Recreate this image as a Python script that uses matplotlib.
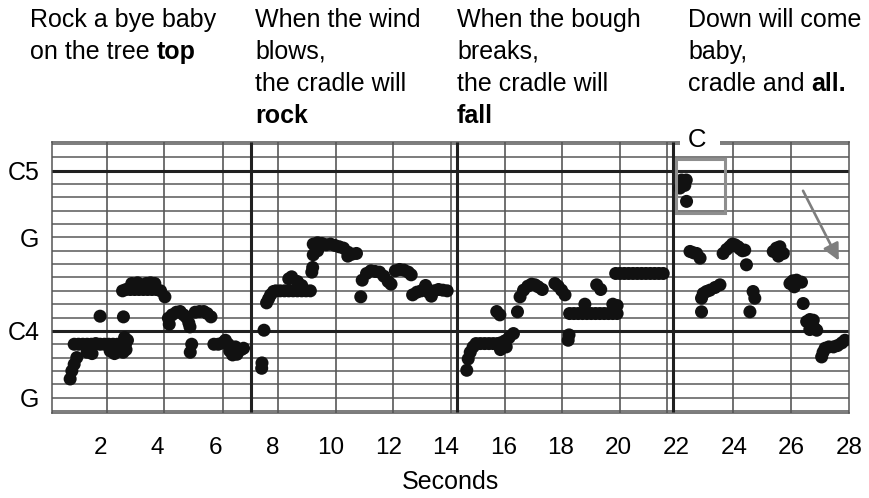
import matplotlib
matplotlib.use("Agg")
import matplotlib.pyplot as plt
from matplotlib.patches import Rectangle

plt.rcParams['font.family'] = ['Liberation Sans', 'DejaVu Sans']

# ---- pitch track (time in seconds, pitch in semitones relative to C4) ----
phrase1_t = [0.96, 1.02, 1.10, 1.19,
             1.10, 1.25, 1.40, 1.55, 1.70, 1.85, 2.00, 2.15, 2.30, 2.45, 2.60, 2.75, 2.88,
             1.55, 1.72, 2.35, 2.50, 2.80, 2.90, 2.85, 2.95,
             2.00, 2.81,
             2.78, 2.90, 3.05, 3.20, 3.35, 3.50, 3.65, 3.80, 3.95, 4.10,
             3.10, 3.30, 3.60, 3.75, 3.90, 4.25,
             4.37, 4.50, 4.65, 4.78, 4.90, 5.00, 5.08, 5.12, 5.30, 5.45, 5.60, 5.72, 5.85, 4.40,
             5.18, 5.13,
             5.95, 6.10, 6.25, 6.35, 6.45, 6.50, 6.60, 6.70, 6.80, 6.90, 6.98, 6.60, 6.75]
phrase1_p = [-3.6, -3.0, -2.5, -2.0,
             -1.0, -1.0, -1.0, -1.0, -1.0, -0.95, -1.0, -1.0, -1.0, -1.0, -1.0, -1.0, -1.0,
             -1.6, -1.7, -1.5, -1.7, -1.6, -1.4, -0.5, -0.7,
             1.1, 1.05,
             3.0, 3.1, 3.1, 3.1, 3.1, 3.1, 3.1, 3.1, 3.1, 3.0,
             3.55, 3.6, 3.55, 3.6, 3.55, 2.55,
             0.95, 1.2, 1.4, 1.45, 1.2, 1.0, 0.6, 0.3, 1.4, 1.45, 1.45, 1.3, 1.05, 0.5,
             -1.0, -1.6,
             -1.0, -1.0, -0.9, -0.7, -1.0, -1.5, -1.3, -1.2, -1.5, -1.4, -1.3, -1.8, -1.75]

phrase2_t = [7.61, 7.62, 7.69,
             7.78, 7.85, 7.92, 8.02,
             8.10, 8.25, 8.40, 8.55, 8.70, 8.85, 9.00, 9.15, 9.30,
             8.55, 8.65, 8.85, 9.00, 9.35, 9.38,
             9.40, 9.55, 9.70, 9.85, 10.0, 9.40, 9.55, 10.15, 10.30, 10.45, 10.60, 10.75, 10.90, 10.60,
             11.10, 11.25, 11.40, 11.55, 11.70, 11.85, 12.00, 12.10, 12.25, 12.40, 12.55, 12.70, 12.80, 11.05,
             12.85, 13.00, 13.15, 13.30, 13.40, 13.50, 13.60, 13.75, 13.90, 14.05]
phrase2_p = [-2.8, -2.4, 0.05,
             2.1, 2.4, 2.7, 2.95,
             3.0, 3.0, 3.0, 3.0, 3.0, 3.0, 3.0, 3.0, 3.0,
             3.9, 4.05, 3.7, 3.4, 4.4, 4.75,
             6.5, 6.6, 6.55, 6.45, 6.5, 5.7, 6.0, 6.4, 6.3, 6.2, 5.9, 5.75, 5.8, 5.6,
             3.8, 4.3, 4.5, 4.45, 4.4, 4.1, 3.7, 3.5, 4.5, 4.6, 4.55, 4.4, 4.2, 2.55,
             2.7, 2.9, 3.0, 3.4, 2.9, 2.6, 3.0, 3.1, 3.05, 3.0]

phrase3_t = [14.73, 14.78, 14.85, 14.95,
             15.05, 15.20, 15.35, 15.50, 15.65, 15.80,
             15.90, 16.05, 16.20, 16.35, 15.90, 16.10,
             15.77, 15.88, 16.49,
             16.58, 16.70, 16.85, 16.98, 17.10, 17.21, 17.35,
             17.79, 17.90, 18.02, 18.14,
             18.25, 18.28,
             18.30, 18.45, 18.60, 18.75, 18.90, 19.05, 19.20, 19.35, 19.50, 19.65, 19.80, 19.95,
             18.83, 19.80, 19.95,
             19.24, 19.38,
             19.90, 20.05, 20.20, 20.35, 20.50, 20.65, 20.80, 20.95, 21.10, 21.25, 21.40, 21.55]
phrase3_p = [-2.95, -2.1, -1.6, -1.2,
             -0.95, -0.95, -0.95, -0.95, -0.95, -0.95,
             -0.9, -0.75, -0.5, -0.2, -1.4, -1.2,
             1.45, 1.2, 1.43,
             2.55, 3.05, 3.35, 3.5, 3.45, 3.3, 3.1,
             3.55, 3.35, 3.05, 2.7,
             -0.7, -0.3,
             1.3, 1.3, 1.3, 1.3, 1.3, 1.3, 1.3, 1.3, 1.3, 1.3, 1.3, 1.3,
             2.0, 2.0, 1.9,
             3.45, 3.1,
             4.3, 4.3, 4.3, 4.3, 4.3, 4.3, 4.3, 4.3, 4.3, 4.3, 4.3, 4.3]

phrase4_t = [22.19, 22.35, 22.13, 22.30, 22.36,
             22.48, 22.60, 22.71, 22.83,
             23.63, 23.75, 23.86, 23.95, 24.04, 24.15, 24.21, 24.30, 24.38, 24.44,
             22.88, 22.94, 23.05, 23.17, 23.35, 23.52, 22.88,
             24.67, 24.73, 24.56,
             25.37, 25.48, 25.60, 25.72, 25.55,
             25.95, 26.05, 26.18, 26.35, 26.10,
             26.41,
             26.53, 26.64, 26.76, 26.64, 26.80, 26.88,
             27.05, 27.10, 27.17, 27.30, 27.46, 27.60, 27.75, 27.86]
phrase4_p = [11.3, 11.3, 10.7, 10.9, 9.7,
             5.95, 5.85, 5.8, 5.45,
             5.8, 6.1, 6.3, 6.5, 6.45, 6.3, 6.15, 6.0, 6.05, 4.95,
             2.45, 2.8, 2.95, 3.05, 3.25, 3.45, 1.43,
             2.95, 2.45, 1.43,
             5.95, 6.2, 6.3, 5.8, 5.6,
             3.55, 3.75, 3.8, 3.65, 3.3,
             2.05,
             0.7, 0.85, 0.8, 0.1, 0.2, 0.05,
             -1.95, -1.6, -1.3, -1.2, -1.2, -1.1, -0.9, -0.7]

# ---- chart grid ----
semitone_lines = list(range(-6, 15))
octave_lines = [0, 12]
time_lines = [2.24, 4.22, 6.27, 8.18, 10.19, 12.17, 14.18, 16.05, 18.03, 20.05, 21.68, 23.97, 25.98]
phrase_lines = [7.24, 14.39, 21.89]

x_ticks = [2, 4, 6, 8, 10, 12, 14, 16, 18, 20, 22, 24, 26, 28]
y_ticks = [12, 7, 0, -5]
y_tick_labels = ['C5', 'G', 'C4', 'G']

# ---- lyrics: (regular part, bold part) per line ----
lyric_columns = [
    [("Rock a bye baby", ""), ("on the tree", "top")],
    [("When the wind", ""), ("blows,", ""), ("the cradle will", ""), ("", "rock")],
    [("When the bough", ""), ("breaks,", ""), ("the cradle will", ""), ("", "fall")],
    [("Down will come", ""), ("baby,", ""), ("cradle and", "all.")],
]
lyric_x_px = [30, 255, 457, 688]
lyric_baseline_px = [27, 59, 91, 123]

W, H = 870, 498
fig = plt.figure(figsize=(W / 100, H / 100), dpi=100)
fig.patch.set_facecolor('white')
ax = fig.add_axes([52 / W, 1 - 413 / H, (849 - 52) / W, (413 - 141.7) / H])
ax.set_xlim(0.33, 28.0)
ax.set_ylim(-6.15, 14.17)

grid_col = '#585858'
for s in semitone_lines:
    if s in octave_lines:
        continue
    ax.axhline(s, color=grid_col, lw=1.1, zorder=1)
for s in octave_lines:
    ax.axhline(s, color='#202020', lw=2.2, zorder=1.5)
for t in time_lines:
    ax.axvline(t, color=grid_col, lw=1.2, zorder=1)
for t in phrase_lines:
    ax.axvline(t, color='#202020', lw=2.2, zorder=1.5)

for pt, pp in [(phrase1_t, phrase1_p), (phrase2_t, phrase2_p),
               (phrase3_t, phrase3_p), (phrase4_t, phrase4_p)]:
    ax.scatter(pt, pp, s=88, color='#111111', edgecolors='none', zorder=3)

# highlighted high C and the falling-contour arrow
ax.add_patch(Rectangle((22.0, 8.85), 1.68, 4.03, fill=False, edgecolor='#8e8e8e', lw=2.2, zorder=4))
ax.add_patch(Rectangle((22.13, 13.55), 1.39, 1.7, facecolor='white', edgecolor='none',
                       zorder=5, clip_on=False))
ax.text(22.72, 14.3, 'C', ha='center', va='center', fontsize=18.5, zorder=6)
ax.annotate('', xy=(27.69, 5.08), xytext=(26.36, 10.68),
            arrowprops=dict(arrowstyle='-|>,head_length=1.0,head_width=0.5',
                            color='#7e7e7e', lw=1.9), zorder=4)

for sp in ax.spines.values():
    sp.set_color('#555555')
    sp.set_linewidth(1.1)

ax.set_xticks(x_ticks)
ax.set_xticklabels([str(v) for v in x_ticks], fontsize=17.5)
ax.set_yticks(y_ticks)
ax.set_yticklabels(y_tick_labels, fontsize=18)
ax.tick_params(axis='x', length=0, pad=17)
ax.tick_params(axis='y', length=0, pad=9)
ax.set_xlabel('Seconds', fontsize=18, labelpad=8)

for col, x_px in zip(lyric_columns, lyric_x_px):
    for (reg, bold), y_px in zip(col, lyric_baseline_px):
        xf, yf = x_px / W, 1 - y_px / H
        if reg:
            t = fig.text(xf, yf, reg, fontsize=18, va='baseline', ha='left')
            if bold:
                ax.annotate(bold, xy=(1, 0), xycoords=t, xytext=(5.0, 0),
                            textcoords='offset points', fontsize=18, fontweight='bold',
                            va='bottom', ha='left', annotation_clip=False)
        else:
            fig.text(xf, yf, bold, fontsize=18, fontweight='bold', va='baseline', ha='left')

fig.savefig('out.png', dpi=100)
